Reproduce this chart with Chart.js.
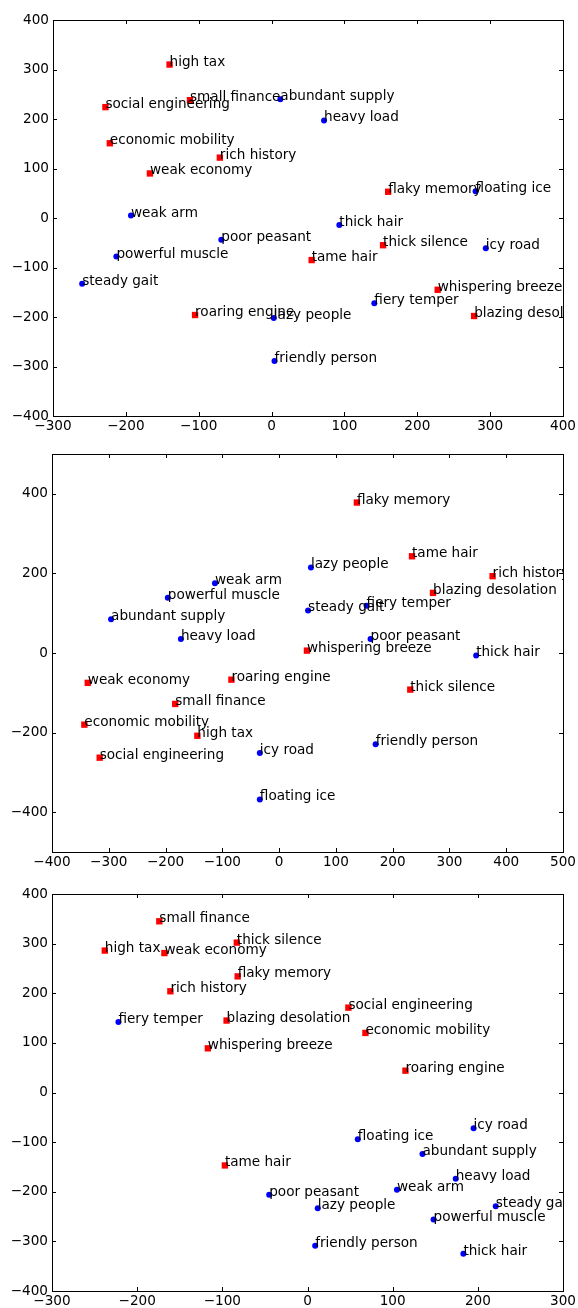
<!DOCTYPE html>
<html>
<head>
<meta charset="utf-8">
<script src="https://cdn.jsdelivr.net/npm/chart.js@4/dist/chart.umd.min.js"></script>
<style>
  html, body { margin: 0; padding: 0; background: #fff; }
  .wrap { position: relative; width: 578px; height: 1308px; }
  .wrap canvas { position: absolute; left: 0; top: 0; }
</style>
</head>
<body>
<div class="wrap">
  <canvas id="c1" width="578" height="1308"></canvas>
  <canvas id="c2" width="578" height="1308"></canvas>
  <canvas id="c3" width="578" height="1308"></canvas>
</div>
<script>
// ---- plot 1 ----
const p1RedWords = ['high tax', 'small finance', 'social engineering', 'economic mobility', 'rich history', 'weak economy',
  'roaring engine', 'flaky memory', 'thick silence', 'tame hair', 'whispering breeze', 'blazing desolation'];
const p1RedX = [-140, -112, -228, -222, -71, -167, -105, 160, 153, 55, 228, 278];
const p1RedY = [310, 238, 224, 151, 122, 90, -196, 53, -55, -85, -145, -198];
const p1BlueWords = ['abundant supply', 'heavy load', 'floating ice', 'thick hair', 'icy road', 'fiery temper',
  'weak arm', 'poor peasant', 'powerful muscle', 'steady gait', 'lazy people', 'friendly person'];
const p1BlueX = [12, 72, 280, 93, 294, 141, -193, -69, -213, -260, 3, 4];
const p1BlueY = [240, 197, 54, -14, -61, -172, 5, -44, -78, -133, -202, -289];
const p1XTicks = [-300, -200, -100, 0, 100, 200, 300, 400];
const p1YTicks = [-400, -300, -200, -100, 0, 100, 200, 300, 400];

// ---- plot 2 ----
const p2RedWords = ['weak economy', 'roaring engine', 'small finance', 'economic mobility', 'high tax', 'social engineering',
  'flaky memory', 'tame hair', 'rich history', 'blazing desolation', 'whispering breeze', 'thick silence'];
const p2RedX = [-337, -84, -183, -343, -144, -316, 137, 234, 376, 271, 49, 231];
const p2RedY = [-75, -67, -128, -180, -208, -263, 378, 243, 193, 151, 6, -92];
const p2BlueWords = ['weak arm', 'powerful muscle', 'abundant supply', 'heavy load', 'icy road', 'floating ice',
  'lazy people', 'fiery temper', 'steady gait', 'poor peasant', 'thick hair', 'friendly person'];
const p2BlueX = [-113, -196, -296, -173, -34, -34, 56, 154, 51, 161, 347, 170];
const p2BlueY = [175, 139, 85, 35, -251, -368, 215, 119, 107, 35, -6, -229];
const p2XTicks = [-400, -300, -200, -100, 0, 100, 200, 300, 400, 500];
const p2YTicks = [-400, -200, 0, 200, 400];

// ---- plot 3 ----
const p3RedWords = ['small finance', 'thick silence', 'high tax', 'weak economy', 'flaky memory', 'rich history',
  'blazing desolation', 'whispering breeze', 'tame hair', 'social engineering', 'economic mobility', 'roaring engine'];
const p3RedX = [-174, -83, -238, -168, -82, -161, -95, -117, -97, 48, 68, 115];
const p3RedY = [345, 302, 286, 281, 234, 204, 145, 89, -147, 171, 120, 44];
const p3BlueWords = ['fiery temper', 'poor peasant', 'icy road', 'floating ice', 'abundant supply', 'heavy load',
  'weak arm', 'steady gait', 'lazy people', 'powerful muscle', 'friendly person', 'thick hair'];
const p3BlueX = [-222, -45, 195, 59, 135, 174, 105, 221, 12, 148, 9, 183];
const p3BlueY = [142, -206, -72, -94, -124, -174, -196, -229, -233, -256, -309, -325];
const p3XTicks = [-300, -200, -100, 0, 100, 200, 300];
const p3YTicks = [-400, -300, -200, -100, 0, 100, 200, 300, 400];

const FONT = '"DejaVu Sans", "Liberation Sans", sans-serif';
const FONT_SIZE = 13.6;

function pts(xs, ys) {
  return xs.map((x, i) => ({ x: x, y: ys[i] }));
}

function minusSign(v) {
  return String(v).replace('-', '\u2212');
}

// inward ticks on all four sides plus the frame
const frameTicks = {
  id: 'frameTicks',
  afterDraw(chart) {
    const ctx = chart.ctx;
    const a = chart.chartArea;
    const len = 4;
    ctx.save();
    ctx.strokeStyle = '#000';
    ctx.lineWidth = 1;
    ctx.beginPath();
    chart.scales.x.ticks.forEach(t => {
      const px = Math.round(chart.scales.x.getPixelForValue(t.value)) + 0.5;
      ctx.moveTo(px, a.bottom); ctx.lineTo(px, a.bottom - len);
      ctx.moveTo(px, a.top); ctx.lineTo(px, a.top + len);
    });
    chart.scales.y.ticks.forEach(t => {
      const py = Math.round(chart.scales.y.getPixelForValue(t.value)) + 0.5;
      ctx.moveTo(a.left, py); ctx.lineTo(a.left + len, py);
      ctx.moveTo(a.right, py); ctx.lineTo(a.right - len, py);
    });
    ctx.stroke();
    ctx.strokeRect(Math.round(a.left) + 0.5, Math.round(a.top) + 0.5,
      Math.round(a.right - a.left), Math.round(a.bottom - a.top));
    ctx.restore();
  }
};

// word labels next to each point, clipped to the plot box
const wordLabels = {
  id: 'wordLabels',
  afterDatasetsDraw(chart) {
    const ctx = chart.ctx;
    const a = chart.chartArea;
    ctx.save();
    ctx.beginPath();
    ctx.rect(a.left, a.top, a.right - a.left, a.bottom - a.top);
    ctx.clip();
    ctx.font = FONT_SIZE + 'px ' + FONT;
    ctx.fillStyle = '#000';
    ctx.textAlign = 'left';
    ctx.textBaseline = 'alphabetic';
    chart.data.datasets.forEach((ds, di) => {
      const meta = chart.getDatasetMeta(di);
      meta.data.forEach((el, i) => {
        ctx.fillText(ds.words[i], el.x, el.y + 1);
      });
    });
    ctx.restore();
  }
};

function makePlot(id, opt) {
  return new Chart(document.getElementById(id), {
    type: 'scatter',
    data: {
      datasets: [{
        words: opt.blueWords,
        data: pts(opt.blueX, opt.blueY),
        pointStyle: 'circle',
        pointRadius: 3,
        pointHoverRadius: 3,
        backgroundColor: '#0000ff',
        borderWidth: 0
      }, {
        words: opt.redWords,
        data: pts(opt.redX, opt.redY),
        pointStyle: 'rect',
        pointRadius: 4.5,
        pointHoverRadius: 4.5,
        backgroundColor: '#ff0000',
        borderWidth: 0
      }]
    },
    options: {
      responsive: false,
      animation: false,
      events: [],
      layout: { padding: { top: opt.top, bottom: 1308 - opt.bottom - 20, left: 0, right: 13 } },
      plugins: { legend: { display: false }, tooltip: { enabled: false } },
      scales: {
        x: {
          type: 'linear',
          min: opt.xMin, max: opt.xMax,
          afterBuildTicks: s => { s.ticks = opt.xTicks.map(v => ({ value: v })); },
          afterFit: s => { s.height = 20; },
          grid: { display: false, drawTicks: false },
          border: { display: false },
          ticks: { padding: 2, color: '#000', font: { family: FONT, size: FONT_SIZE }, callback: minusSign, maxRotation: 0, autoSkip: false }
        },
        y: {
          type: 'linear',
          min: opt.yMin, max: opt.yMax,
          afterBuildTicks: s => { s.ticks = opt.yTicks.map(v => ({ value: v })); },
          afterFit: s => { s.width = opt.left; },
          grid: { display: false, drawTicks: false },
          border: { display: false },
          ticks: { padding: 4, color: '#000', font: { family: FONT, size: FONT_SIZE }, callback: minusSign, autoSkip: false }
        }
      }
    },
    plugins: [wordLabels, frameTicks]
  });
}

makePlot('c1', {
  redWords: p1RedWords, redX: p1RedX, redY: p1RedY,
  blueWords: p1BlueWords, blueX: p1BlueX, blueY: p1BlueY,
  xMin: -300, xMax: 400, yMin: -400, yMax: 400,
  xTicks: p1XTicks, yTicks: p1YTicks,
  top: 20, bottom: 416, left: 53
});

makePlot('c2', {
  redWords: p2RedWords, redX: p2RedX, redY: p2RedY,
  blueWords: p2BlueWords, blueX: p2BlueX, blueY: p2BlueY,
  xMin: -400, xMax: 500, yMin: -500, yMax: 500,
  xTicks: p2XTicks, yTicks: p2YTicks,
  top: 454, bottom: 852, left: 52
});

makePlot('c3', {
  redWords: p3RedWords, redX: p3RedX, redY: p3RedY,
  blueWords: p3BlueWords, blueX: p3BlueX, blueY: p3BlueY,
  xMin: -300, xMax: 300, yMin: -400, yMax: 400,
  xTicks: p3XTicks, yTicks: p3YTicks,
  top: 894, bottom: 1291, left: 52
});
</script>
</body>
</html>
